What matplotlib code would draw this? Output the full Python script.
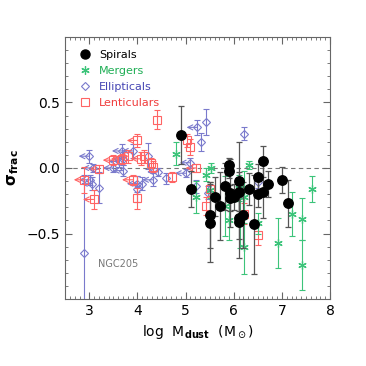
import numpy as np
import matplotlib.pyplot as plt
from matplotlib.lines import Line2D

# --------------------
# Data
# --------------------

# Spirals : log Mdust, sigma_frac, error
sp_x = [4.91, 5.11, 5.50, 5.50, 5.61, 5.72, 5.81, 5.91, 5.91, 5.92, 5.92, 6.01, 6.11,
        6.11, 6.11, 6.11, 6.20, 6.32, 6.41, 6.51, 6.51, 6.61, 6.61, 6.71, 7.01, 7.12]
sp_y = [0.25, -0.16, -0.36, -0.42, -0.22, -0.29, -0.14, 0.02, -0.02, -0.19, -0.23, -0.22, -0.10,
        -0.18, -0.38, -0.41, -0.36, -0.16, -0.43, -0.07, -0.20, 0.05, -0.18, -0.12, -0.09, -0.27]
sp_e = [0.22, 0.14, 0.25, 0.30, 0.15, 0.26, 0.18, 0.06, 0.06, 0.26, 0.10, 0.10, 0.30,
        0.15, 0.16, 0.28, 0.25, 0.12, 0.38, 0.10, 0.10, 0.12, 0.20, 0.10, 0.10, 0.18]

# Mergers
mg_x = [4.81, 5.21, 5.42, 5.52, 5.50, 5.81, 5.90, 6.12, 6.11, 6.22, 6.22, 6.32, 6.51,
        6.92, 7.21, 7.42, 7.42, 7.63]
mg_y = [0.11, -0.22, -0.05, 0.00, -0.17, -0.29, -0.40, -0.41, -0.15, -0.22, -0.60, 0.02, -0.42,
        -0.57, -0.35, -0.39, -0.74, -0.16]
mg_e = [0.09, 0.12, 0.05, 0.04, 0.06, 0.23, 0.15, 0.20, 0.10, 0.20, 0.21, 0.03, 0.08,
        0.19, 0.17, 0.16, 0.19, 0.10]

# Ellipticals (lim = 1 : upper limit on dust mass)
el_x = [3.00, 3.08, 3.01, 3.20, 3.05, 2.90, 3.69, 3.90, 3.71, 3.62, 3.71, 4.00, 4.00,
        4.09, 4.21, 4.32, 4.42, 4.60, 5.00, 5.42, 5.24, 5.31, 6.22, 5.10, 5.22, 5.46, 3.50, 6.51]
el_y = [0.09, 0.00, -0.09, -0.15, -0.12, -0.65, 0.13, 0.13, 0.07, 0.05, -0.02, -0.12, -0.16,
        -0.12, 0.09, -0.09, -0.03, -0.08, -0.04, 0.35, 0.31, 0.20, 0.26, 0.04, -0.14, -0.19, 0.00, -0.11]
el_e = [0.05, 0.03, 0.04, 0.12, 0.05, 0.60, 0.05, 0.05, 0.05, 0.04, 0.04, 0.06, 0.10,
        0.05, 0.10, 0.05, 0.03, 0.04, 0.03, 0.10, 0.06, 0.07, 0.05, 0.04, 0.05, 0.05, 0.03, 0.04]
el_lim = [1, 1, 1, 0, 1, 0, 1, 1, 1, 1, 1, 1, 0,
          1, 0, 1, 1, 0, 1, 0, 1, 0, 0, 1, 0, 0, 1, 0]

# Lenticulars
le_x = [3.20, 2.90, 3.09, 4.40, 4.00, 4.08, 3.50, 3.67, 3.81, 4.14, 4.29, 4.33, 3.90,
        4.00, 4.71, 5.03, 5.10, 5.22, 5.50, 5.42, 6.22, 6.51]
le_y = [-0.01, -0.09, -0.24, 0.37, 0.21, 0.07, 0.06, 0.07, 0.09, 0.09, 0.04, 0.01, -0.09,
        -0.23, -0.07, 0.21, 0.16, 0.00, -0.16, -0.29, -0.35, -0.51]
le_e = [0.03, 0.10, 0.07, 0.07, 0.05, 0.05, 0.04, 0.04, 0.05, 0.05, 0.04, 0.04, 0.04,
        0.08, 0.04, 0.05, 0.06, 0.03, 0.05, 0.07, 0.08, 0.08]
le_lim = [1, 1, 1, 0, 1, 1, 1, 1, 1, 0, 0, 0, 1,
          0, 0, 0, 0, 1, 0, 0, 0, 0]

labels = ['Spirals', 'Mergers', 'Ellipticals', 'Lenticulars']
text_colors = ['black', '#1fae55', '#4646b4', '#f03c3c']

# couleurs des symboles
c_sp, c_sp_err = 'black', '#555555'
c_mg = '#3cc47a'
c_el = '#7a7acc'
c_le = '#ff6464'

arrow_len = 0.22

# --------------------
# Tracé
# --------------------
fig = plt.figure(figsize=(3.66, 3.66), dpi=100)
ax = fig.add_axes([0.178, 0.183, 0.724, 0.716])

ax.axhline(0, color='#777777', lw=0.8, dashes=(4, 3), zorder=1)


def limit_arrows(xs, ys, lims, color):
    # flèches vers la gauche pour les limites supérieures
    for x, y, l in zip(xs, ys, lims):
        if l:
            ax.annotate('', xy=(x - arrow_len, y), xytext=(x, y),
                        arrowprops=dict(arrowstyle='->', color=color, lw=0.8,
                                        mutation_scale=9, shrinkA=0, shrinkB=0),
                        zorder=2)


ax.errorbar(el_x, el_y, yerr=el_e, fmt='D', ms=3.6, mfc='none', mec=c_el, mew=0.8,
            ecolor=c_el, elinewidth=0.8, capsize=2, capthick=0.8, zorder=2)
limit_arrows(el_x, el_y, el_lim, c_el)

ax.errorbar(le_x, le_y, yerr=le_e, fmt='s', ms=5.5, mfc='none', mec=c_le, mew=0.8,
            ecolor=c_le, elinewidth=0.8, capsize=2, capthick=0.8, zorder=3)
limit_arrows(le_x, le_y, le_lim, c_le)

ax.errorbar(mg_x, mg_y, yerr=mg_e, fmt='none', ecolor=c_mg, elinewidth=0.8,
            capsize=2, capthick=0.8, zorder=4)
ax.plot(mg_x, mg_y, ls='none', marker=(6, 2, 0), ms=6, mec=c_mg, mew=0.9, zorder=4)

ax.errorbar(sp_x, sp_y, yerr=sp_e, fmt='o', ms=6.8, color=c_sp, ecolor=c_sp_err,
            elinewidth=0.9, capsize=2, capthick=0.9, zorder=5)

ax.text(3.18, -0.73, 'NGC205', color='#777777', fontsize=7, va='center', ha='left')

# légende : symboles seuls, texte en couleur
handles = [
    Line2D([], [], ls='none', marker='o', ms=6.5, color=c_sp),
    Line2D([], [], ls='none', marker=(6, 2, 0), ms=6, mec=c_mg, mew=0.9),
    Line2D([], [], ls='none', marker='D', ms=3.6, mfc='none', mec=c_el, mew=0.8),
    Line2D([], [], ls='none', marker='s', ms=5.5, mfc='none', mec=c_le, mew=0.8),
]
ax.legend(handles, labels, loc='upper left', frameon=False, fontsize=8,
          labelcolor=text_colors, handletextpad=0.7, handlelength=1.2,
          labelspacing=0.55, borderaxespad=0.75)

ax.set_xlim(2.5, 8)
ax.set_ylim(-1, 1)
ax.set_xticks([3, 4, 5, 6, 7, 8])
ax.set_yticks([-0.5, 0.0, 0.5])
ax.set_xticks(np.arange(2.5, 8.01, 0.1), minor=True)
ax.set_yticks(np.arange(-1, 1.01, 0.1), minor=True)
ax.tick_params(which='both', direction='in', top=True, right=True, color='#666666',
               labelsize=10)
ax.tick_params(which='major', length=5, width=0.8)
ax.tick_params(which='minor', length=2.5, width=0.6)
for s in ax.spines.values():
    s.set_color('#666666')
    s.set_linewidth(0.8)

ax.set_xlabel(r'log  M$_{\mathbf{dust}}$  (M$_\odot$)', fontsize=10)
ax.set_ylabel(r'$\mathbf{σ_{frac}}$', fontsize=11, labelpad=4)

fig.savefig('out.png', dpi=100)
